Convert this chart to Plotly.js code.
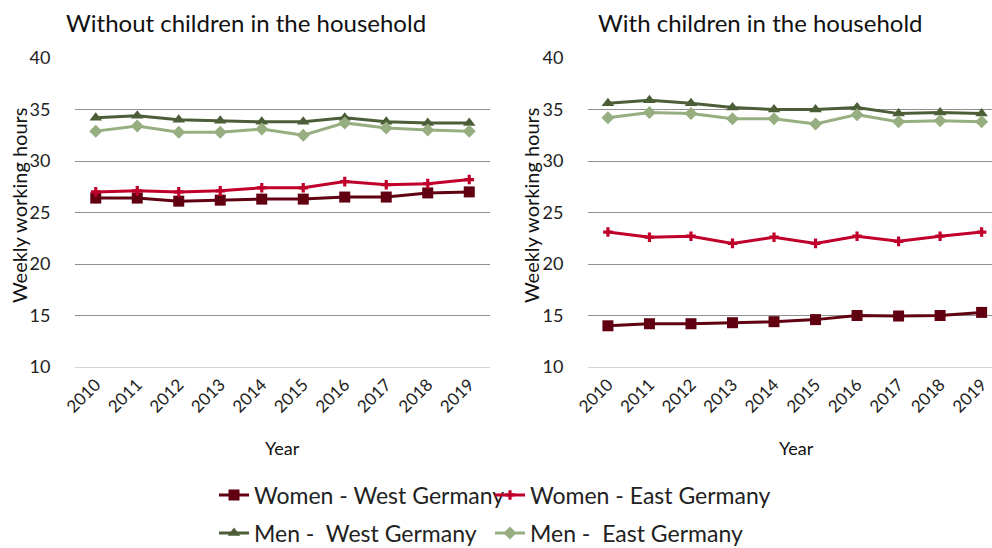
<!DOCTYPE html>
<html>
<head>
<meta charset="utf-8">
<script src="https://cdn.plot.ly/plotly-3.0.1.min.js"></script>
<style>html,body{margin:0;padding:0;background:#fff;}#chart{width:992px;height:548px;}</style>
</head>
<body>
<div id="chart"></div>
<script>
const years = ['2010','2011','2012','2013','2014','2015','2016','2017','2018','2019'];
const panelTitles = ['Without children in the household', 'With children in the household'];
const seriesNames = ['Women - West Germany', 'Women - East Germany', 'Men -\u00a0 West Germany', 'Men -\u00a0 East Germany'];

// Without children
const noKidsWomenWest = [26.4, 26.4, 26.1, 26.2, 26.3, 26.3, 26.5, 26.5, 26.9, 27.0];
const noKidsWomenEast = [27.0, 27.1, 27.0, 27.1, 27.4, 27.4, 28.0, 27.7, 27.8, 28.2];
const noKidsMenWest   = [34.2, 34.4, 34.0, 33.9, 33.8, 33.8, 34.2, 33.8, 33.7, 33.7];
const noKidsMenEast   = [32.9, 33.4, 32.8, 32.8, 33.1, 32.5, 33.7, 33.2, 33.0, 32.9];

// With children
const kidsWomenWest = [14.0, 14.2, 14.2, 14.3, 14.4, 14.6, 15.0, 14.95, 15.0, 15.3];
const kidsWomenEast = [23.1, 22.6, 22.7, 22.0, 22.6, 22.0, 22.7, 22.2, 22.7, 23.1];
const kidsMenWest   = [35.6, 35.9, 35.6, 35.2, 35.0, 35.0, 35.2, 34.6, 34.7, 34.6];
const kidsMenEast   = [34.2, 34.7, 34.6, 34.1, 34.1, 33.6, 34.5, 33.8, 33.9, 33.8];

const colors = ['#600010', '#c0002a', '#4b5e37', '#96ae80'];
const symbols = ['square', 'cross', 'triangle-up', 'diamond'];
const sizes = [11, 8, 11, 10];
const legends = ['legend', 'legend2', 'legend3', 'legend4'];

const left = [noKidsWomenWest, noKidsWomenEast, noKidsMenWest, noKidsMenEast];
const right = [kidsWomenWest, kidsWomenEast, kidsMenWest, kidsMenEast];

const traces = [];
left.forEach((vals, i) => {
  traces.push({x: years, y: vals, type: 'scatter', mode: 'lines+markers', name: seriesNames[i],
    line: {color: colors[i], width: 3}, marker: {symbol: symbols[i], size: sizes[i], color: colors[i]},
    xaxis: 'x', yaxis: 'y', legend: legends[i], showlegend: true});
});
right.forEach((vals, i) => {
  traces.push({x: years, y: vals, type: 'scatter', mode: 'lines+markers', name: seriesNames[i],
    line: {color: colors[i], width: 3}, marker: {symbol: symbols[i], size: sizes[i], color: colors[i]},
    xaxis: 'x2', yaxis: 'y2', legend: legends[i], showlegend: false});
});

const font = {family: 'Lato, "Noto Sans", sans-serif', color: '#222', size: 18};
const yax = {range: [10, 40], dtick: 5, tick0: 10, showgrid: true, gridcolor: '#8f8f8f', gridwidth: 1,
  zeroline: false, ticks: 'outside', ticklen: 20, tickcolor: 'rgba(0,0,0,0)', tickfont: {size: 18},
  fixedrange: true, automargin: false};
const xax = {type: 'category', showgrid: false, tickangle: -45, ticks: '', tickfont: {size: 17},
  showline: true, linecolor: '#d4d4d4', linewidth: 1, fixedrange: true, automargin: false};

const H = 309;
const py = p => (367 - p) / H;
const cy = p => 1 - p / 548;

const legendStyle = {orientation: 'h', xref: 'container', yref: 'container', xanchor: 'left', yanchor: 'middle',
  font: {size: 23, color: '#222'}, bgcolor: 'rgba(0,0,0,0)'};

const layout = {
  width: 992, height: 548,
  margin: {l: 0, r: 0, t: 58, b: 181},
  paper_bgcolor: '#fff', plot_bgcolor: '#fff',
  font: font,
  showlegend: true,
  xaxis: Object.assign({}, xax, {domain: [75/992, 490/992], range: [-0.5, 9.5], anchor: 'y'}),
  yaxis: Object.assign({}, yax, {domain: [0, 1], anchor: 'x'}),
  xaxis2: Object.assign({}, xax, {domain: [588/992, 1], range: [-0.48, 9.25], anchor: 'y2'}),
  yaxis2: Object.assign({}, yax, {domain: [0, 1], anchor: 'x2'}),
  legend: Object.assign({}, legendStyle, {x: 214/992, y: cy(495)}),
  legend2: Object.assign({}, legendStyle, {x: 490/992, y: cy(495)}),
  legend3: Object.assign({}, legendStyle, {x: 214/992, y: cy(533)}),
  legend4: Object.assign({}, legendStyle, {x: 490/992, y: cy(533)}),
  annotations: [
    {text: panelTitles[0], xref: 'paper', yref: 'paper', x: 64/992, xanchor: 'left', y: py(22), yanchor: 'middle', showarrow: false, font: {size: 24, color: '#111'}},
    {text: panelTitles[1], xref: 'paper', yref: 'paper', x: 596/992, xanchor: 'left', y: py(22), yanchor: 'middle', showarrow: false, font: {size: 24, color: '#111'}},
    {text: 'Weekly working hours', xref: 'paper', yref: 'paper', x: 19/992, xanchor: 'center', y: py(206), yanchor: 'middle', textangle: -90, showarrow: false, font: {size: 20, color: '#111'}},
    {text: 'Weekly working hours', xref: 'paper', yref: 'paper', x: 531/992, xanchor: 'center', y: py(206), yanchor: 'middle', textangle: -90, showarrow: false, font: {size: 20, color: '#111'}},
    {text: 'Year', xref: 'paper', yref: 'paper', x: 282/992, xanchor: 'center', y: py(448), yanchor: 'middle', showarrow: false, font: {size: 18, color: '#111'}},
    {text: 'Year', xref: 'paper', yref: 'paper', x: 796/992, xanchor: 'center', y: py(448), yanchor: 'middle', showarrow: false, font: {size: 18, color: '#111'}}
  ]
};

Plotly.newPlot('chart', traces, layout, {staticPlot: true, displayModeBar: false});
</script>
</body>
</html>
